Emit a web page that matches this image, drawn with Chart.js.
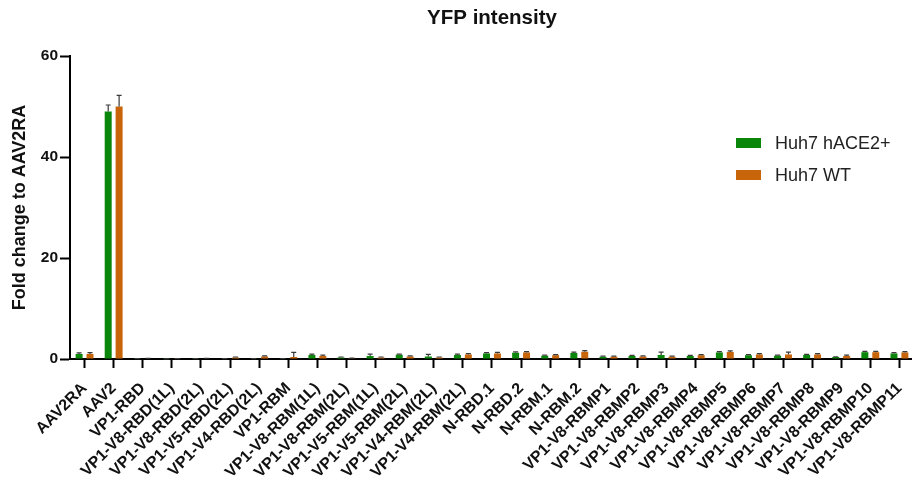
<!DOCTYPE html>
<html>
<head>
<meta charset="utf-8">
<script src="https://cdn.jsdelivr.net/npm/chart.js@4"></script>
<style>
  html, body { margin: 0; padding: 0; background: #fff; overflow: hidden; }
  #wrap { width: 924px; height: 480px; }
</style>
</head>
<body>
<div id="wrap"><canvas id="yfpChart" width="924" height="480"></canvas></div>
<script>
// --- data ---
const categories = [
  'AAV2RA', 'AAV2', 'VP1-RBD', 'VP1-V8-RBD(1L)', 'VP1-V8-RBD(2L)', 'VP1-V5-RBD(2L)',
  'VP1-V4-RBD(2L)', 'VP1-RBM', 'VP1-V8-RBM(1L)', 'VP1-V8-RBM(2L)', 'VP1-V5-RBM(1L)',
  'VP1-V5-RBM(2L)', 'VP1-V4-RBM(2L)', 'VP1-V4-RBM(2L)', 'N-RBD.1', 'N-RBD.2', 'N-RBM.1',
  'N-RBM.2', 'VP1-V8-RBMP1', 'VP1-V8-RBMP2', 'VP1-V8-RBMP3', 'VP1-V8-RBMP4', 'VP1-V8-RBMP5',
  'VP1-V8-RBMP6', 'VP1-V8-RBMP7', 'VP1-V8-RBMP8', 'VP1-V8-RBMP9', 'VP1-V8-RBMP10', 'VP1-V8-RBMP11'
];
const hace2Values = [1.0, 49.0, 0.03, 0.02, 0.03, 0.05, 0.05, 0.05, 0.8, 0.3, 0.6, 0.85, 0.5, 0.8, 1.1,
  1.25, 0.65, 1.2, 0.45, 0.6, 0.8, 0.6, 1.3, 0.75, 0.65, 0.8, 0.4, 1.35, 1.1];
const hace2Errors = [0.2, 1.3, 0.05, 0.02, 0.03, 0.03, 0.03, 0.03, 0.15, 0.1, 0.35, 0.1, 0.4, 0.15, 0.15,
  0.15, 0.1, 0.15, 0.1, 0.1, 0.55, 0.1, 0.15, 0.1, 0.1, 0.1, 0.05, 0.15, 0.15];
const wtValues = [1.0, 50.0, 0.1, 0.05, 0.1, 0.3, 0.5, 0.4, 0.6, 0.15, 0.3, 0.5, 0.3, 0.9, 1.1,
  1.3, 0.75, 1.45, 0.45, 0.5, 0.45, 0.75, 1.4, 0.9, 0.9, 0.9, 0.6, 1.35, 1.3];
const wtErrors = [0.25, 2.2, 0.05, 0.02, 0.05, 0.1, 0.1, 0.9, 0.15, 0.05, 0.1, 0.1, 0.1, 0.15, 0.2,
  0.15, 0.1, 0.2, 0.1, 0.1, 0.1, 0.1, 0.2, 0.15, 0.45, 0.15, 0.15, 0.15, 0.15];
const yTicks = [0, 20, 40, 60];

const GREEN = '#0a870a';
const ORANGE = '#c8650a';
const FONT = 'Arial, "Liberation Sans", Helvetica, sans-serif';

// error bars (upward only, with a small cap)
const errorBars = {
  id: 'errorBars',
  afterDatasetsDraw(chart) {
    const ctx = chart.ctx;
    const y = chart.scales.y;
    ctx.save();
    ctx.strokeStyle = '#3a3a3a';
    ctx.lineWidth = 1.2;
    chart.data.datasets.forEach((ds, di) => {
      const meta = chart.getDatasetMeta(di);
      meta.data.forEach((bar, i) => {
        const top = y.getPixelForValue(ds.data[i] + ds.errors[i]);
        ctx.beginPath();
        ctx.moveTo(bar.x, bar.y);
        ctx.lineTo(bar.x, top);
        ctx.moveTo(bar.x - 2.5, top);
        ctx.lineTo(bar.x + 2.5, top);
        ctx.stroke();
      });
    });
    ctx.restore();
  }
};

// title over the plot and legend in the empty upper right
const decorations = {
  id: 'decorations',
  afterDraw(chart) {
    const ctx = chart.ctx;
    ctx.save();
    ctx.fillStyle = '#111';
    ctx.font = 'bold 20.5px ' + FONT;
    ctx.textAlign = 'center';
    ctx.textBaseline = 'middle';
    ctx.fillText('YFP intensity', 492, 18);

    ctx.font = '18px ' + FONT;
    ctx.textAlign = 'left';
    chart.data.datasets.forEach((ds, i) => {
      const yy = 143 + i * 32;
      ctx.fillStyle = ds.backgroundColor;
      ctx.fillRect(736, yy - 5, 25, 10);
      ctx.fillStyle = '#222';
      ctx.fillText(ds.label, 775, yy + 1);
    });
    ctx.restore();
  }
};

new Chart(document.getElementById('yfpChart'), {
  type: 'bar',
  data: {
    labels: categories,
    datasets: [
      { label: 'Huh7 hACE2+', data: hace2Values, errors: hace2Errors, backgroundColor: GREEN },
      { label: 'Huh7 WT', data: wtValues, errors: wtErrors, backgroundColor: ORANGE }
    ]
  },
  options: {
    responsive: false,
    animation: false,
    devicePixelRatio: 1,
    layout: { padding: { top: 56, left: 0, right: 0, bottom: 0 } },
    datasets: { bar: { categoryPercentage: 0.75, barPercentage: 0.64 } },
    plugins: {
      legend: { display: false },
      title: { display: false },
      tooltip: { enabled: false }
    },
    scales: {
      x: {
        offset: true,
        afterFit(scale) { scale.height = 121; },
        border: { display: true, color: '#000', width: 2 },
        grid: { offset: false, drawOnChartArea: false, drawTicks: true, tickLength: 9, tickWidth: 2, tickColor: '#000' },
        ticks: {
          autoSkip: false,
          maxRotation: 45,
          minRotation: 45,
          padding: 11,
          color: '#111',
          font: { family: FONT, size: 16, weight: 'bold' }
        }
      },
      y: {
        min: 0,
        max: 60,
        afterFit(scale) { scale.width = 70; },
        afterBuildTicks(scale) { scale.ticks = yTicks.map(v => ({ value: v })); },
        border: { display: true, color: '#000', width: 2 },
        grid: { drawOnChartArea: false, drawTicks: true, tickLength: 10, tickWidth: 2, tickColor: '#000' },
        ticks: {
          padding: 2,
          color: '#111',
          font: { family: FONT, size: 15.5, weight: 'bold' }
        },
        title: {
          display: true,
          text: 'Fold change to AAV2RA',
          color: '#111',
          padding: { top: 9, bottom: 0 },
          font: { family: FONT, size: 18, weight: 'bold' }
        }
      }
    }
  },
  plugins: [errorBars, decorations]
});
</script>
</body>
</html>
